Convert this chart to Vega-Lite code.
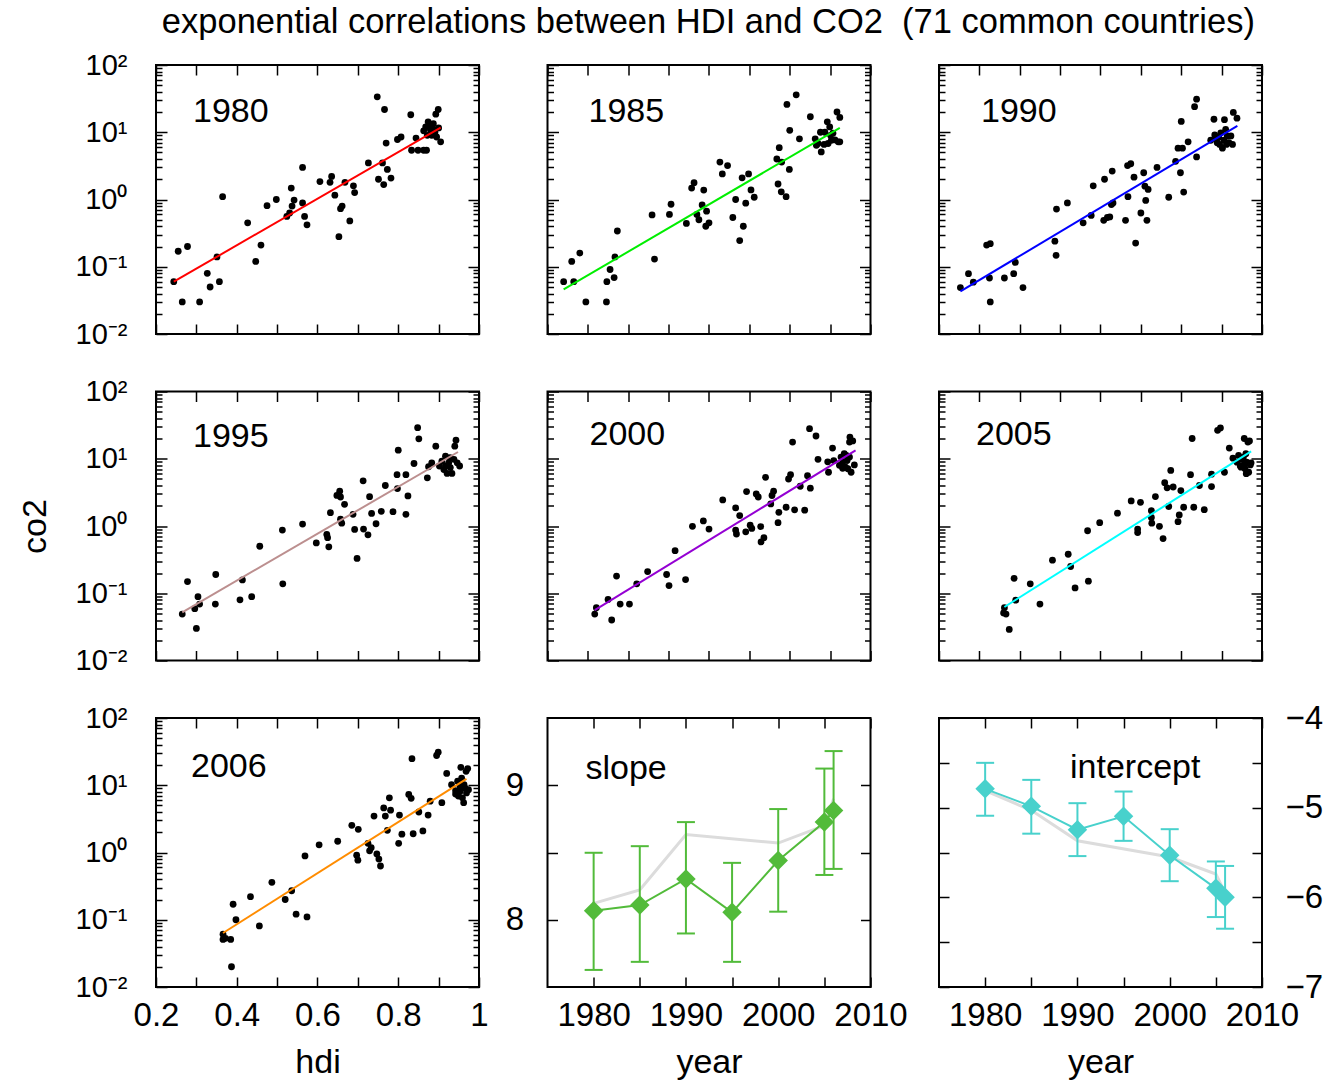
{
"$schema": "https://vega.github.io/schema/vega-lite/v6.json",
"padding": {"left": 17, "top": 5, "right": 5, "bottom": 5},
"background": "white",
"config": {
  "font": "Liberation Sans",
  "view": {"stroke": "black", "strokeWidth": 2},
  "axis": {"domain": false, "grid": false, "tickColor": "black", "tickWidth": 1.5, "labelFont": "Liberation Sans", "labelFontSize": 33, "labelColor": "black", "titleFont": "Liberation Sans", "titleFontSize": 34, "titleFontWeight": "normal", "titleColor": "black", "labelOverlap": false, "labelFlush": false, "labelBound": false, "labelPadding": 22},
  "title": {"font": "Liberation Sans", "fontWeight": "normal", "color": "black"}
},
"title": {"text": "exponential correlations between HDI and CO2\u00a0 (71 common countries)", "fontSize": 34.5, "anchor": "middle", "frame": "bounds", "dx": 38, "offset": 9.5},
"bounds": "flush",
"columns": 3,
"spacing": {"row": 57.5, "column": 68.5},
"datasets": {
"d1980": [{"hdi":0.244,"co2":0.06},{"hdi":0.255,"co2":0.17},{"hdi":0.278,"co2":0.2},{"hdi":0.265,"co2":0.03},{"hdi":0.308,"co2":0.03},{"hdi":0.327,"co2":0.08},{"hdi":0.334,"co2":0.05},{"hdi":0.351,"co2":0.14},{"hdi":0.357,"co2":0.06},{"hdi":0.365,"co2":1.1},{"hdi":0.427,"co2":0.45},{"hdi":0.447,"co2":0.12},{"hdi":0.46,"co2":0.21},{"hdi":0.475,"co2":0.81},{"hdi":0.498,"co2":1.0},{"hdi":0.524,"co2":0.56},{"hdi":0.531,"co2":0.63},{"hdi":0.535,"co2":1.48},{"hdi":0.537,"co2":0.8},{"hdi":0.542,"co2":0.98},{"hdi":0.563,"co2":3.0},{"hdi":0.563,"co2":0.89},{"hdi":0.568,"co2":0.56},{"hdi":0.574,"co2":0.42},{"hdi":0.606,"co2":1.85},{"hdi":0.631,"co2":1.8},{"hdi":0.635,"co2":2.2},{"hdi":0.643,"co2":1.16},{"hdi":0.653,"co2":0.28},{"hdi":0.657,"co2":0.73},{"hdi":0.661,"co2":0.8},{"hdi":0.668,"co2":1.8},{"hdi":0.68,"co2":0.48},{"hdi":0.689,"co2":1.6},{"hdi":0.692,"co2":1.27},{"hdi":0.726,"co2":3.5},{"hdi":0.748,"co2":33.6},{"hdi":0.751,"co2":2.0},{"hdi":0.761,"co2":3.5},{"hdi":0.766,"co2":21.8},{"hdi":0.764,"co2":1.67},{"hdi":0.77,"co2":6.9},{"hdi":0.773,"co2":2.8},{"hdi":0.782,"co2":2.08},{"hdi":0.798,"co2":7.8},{"hdi":0.807,"co2":8.5},{"hdi":0.831,"co2":18.2},{"hdi":0.833,"co2":5.4},{"hdi":0.844,"co2":8.2},{"hdi":0.849,"co2":5.4},{"hdi":0.863,"co2":5.4},{"hdi":0.87,"co2":5.4},{"hdi":0.863,"co2":10.5},{"hdi":0.868,"co2":12},{"hdi":0.874,"co2":14.3},{"hdi":0.878,"co2":12.7},{"hdi":0.887,"co2":13.4},{"hdi":0.891,"co2":10.1},{"hdi":0.883,"co2":9.0},{"hdi":0.893,"co2":18.6},{"hdi":0.899,"co2":21.8},{"hdi":0.905,"co2":7.2},{"hdi":0.895,"co2":8.5},{"hdi":0.9,"co2":11.6},{"hdi":0.888,"co2":11},{"hdi":0.872,"co2":9},{"hdi":0.88,"co2":10.7}],
"d1985": [{"hdi":0.24,"co2":0.06},{"hdi":0.26,"co2":0.12},{"hdi":0.265,"co2":0.06},{"hdi":0.28,"co2":0.16},{"hdi":0.295,"co2":0.03},{"hdi":0.346,"co2":0.03},{"hdi":0.347,"co2":0.06},{"hdi":0.355,"co2":0.091},{"hdi":0.365,"co2":0.069},{"hdi":0.367,"co2":0.14},{"hdi":0.373,"co2":0.34},{"hdi":0.459,"co2":0.59},{"hdi":0.465,"co2":0.13},{"hdi":0.502,"co2":0.6},{"hdi":0.506,"co2":0.85},{"hdi":0.544,"co2":0.44},{"hdi":0.557,"co2":1.48},{"hdi":0.563,"co2":1.78},{"hdi":0.57,"co2":0.6},{"hdi":0.575,"co2":0.5},{"hdi":0.583,"co2":0.83},{"hdi":0.587,"co2":1.38},{"hdi":0.592,"co2":0.4},{"hdi":0.594,"co2":0.67},{"hdi":0.6,"co2":0.45},{"hdi":0.627,"co2":3.6},{"hdi":0.633,"co2":2.4},{"hdi":0.646,"co2":3.2},{"hdi":0.659,"co2":0.54},{"hdi":0.666,"co2":1.0},{"hdi":0.676,"co2":0.245},{"hdi":0.682,"co2":2.1},{"hdi":0.685,"co2":0.4},{"hdi":0.691,"co2":0.88},{"hdi":0.698,"co2":2.4},{"hdi":0.704,"co2":1.39},{"hdi":0.712,"co2":1.08},{"hdi":0.771,"co2":1.7},{"hdi":0.768,"co2":4.0},{"hdi":0.774,"co2":5.9},{"hdi":0.78,"co2":3.6},{"hdi":0.779,"co2":1.3},{"hdi":0.791,"co2":1.1},{"hdi":0.799,"co2":2.8},{"hdi":0.793,"co2":25.9},{"hdi":0.8,"co2":10.7},{"hdi":0.816,"co2":36},{"hdi":0.824,"co2":8.0},{"hdi":0.851,"co2":17},{"hdi":0.863,"co2":8.0},{"hdi":0.866,"co2":6.4},{"hdi":0.878,"co2":5.1},{"hdi":0.876,"co2":10},{"hdi":0.885,"co2":6.6},{"hdi":0.893,"co2":14.3},{"hdi":0.899,"co2":12},{"hdi":0.903,"co2":7.6},{"hdi":0.907,"co2":9.7},{"hdi":0.912,"co2":7.7},{"hdi":0.917,"co2":20},{"hdi":0.924,"co2":16.6},{"hdi":0.92,"co2":7.2},{"hdi":0.924,"co2":7.2},{"hdi":0.887,"co2":10},{"hdi":0.87,"co2":6.8},{"hdi":0.895,"co2":6.8},{"hdi":0.901,"co2":9}],
"d1990": [{"hdi":0.253,"co2":0.049},{"hdi":0.273,"co2":0.079},{"hdi":0.285,"co2":0.059},{"hdi":0.318,"co2":0.21},{"hdi":0.327,"co2":0.22},{"hdi":0.325,"co2":0.068},{"hdi":0.327,"co2":0.03},{"hdi":0.362,"co2":0.068},{"hdi":0.385,"co2":0.079},{"hdi":0.389,"co2":0.116},{"hdi":0.408,"co2":0.049},{"hdi":0.487,"co2":0.24},{"hdi":0.49,"co2":0.148},{"hdi":0.491,"co2":0.72},{"hdi":0.518,"co2":0.89},{"hdi":0.557,"co2":0.45},{"hdi":0.577,"co2":0.58},{"hdi":0.582,"co2":1.6},{"hdi":0.608,"co2":0.49},{"hdi":0.617,"co2":0.54},{"hdi":0.623,"co2":0.55},{"hdi":0.61,"co2":2.0},{"hdi":0.629,"co2":2.65},{"hdi":0.627,"co2":0.84},{"hdi":0.631,"co2":0.89},{"hdi":0.662,"co2":0.49},{"hdi":0.668,"co2":1.1},{"hdi":0.667,"co2":3.2},{"hdi":0.675,"co2":3.4},{"hdi":0.683,"co2":2.15},{"hdi":0.687,"co2":0.225},{"hdi":0.7,"co2":0.63},{"hdi":0.707,"co2":2.5},{"hdi":0.71,"co2":1.58},{"hdi":0.712,"co2":0.97},{"hdi":0.715,"co2":0.49},{"hdi":0.718,"co2":1.41},{"hdi":0.74,"co2":3.0},{"hdi":0.769,"co2":1.08},{"hdi":0.786,"co2":3.7},{"hdi":0.792,"co2":5.8},{"hdi":0.798,"co2":2.5},{"hdi":0.806,"co2":1.29},{"hdi":0.8,"co2":14.5},{"hdi":0.803,"co2":5.8},{"hdi":0.817,"co2":7.2},{"hdi":0.833,"co2":24},{"hdi":0.838,"co2":31},{"hdi":0.838,"co2":4.3},{"hdi":0.873,"co2":7.6},{"hdi":0.881,"co2":15.6},{"hdi":0.883,"co2":9.1},{"hdi":0.889,"co2":7.0},{"hdi":0.893,"co2":8.4},{"hdi":0.898,"co2":9.8},{"hdi":0.902,"co2":5.8},{"hdi":0.907,"co2":15.4},{"hdi":0.906,"co2":7.6},{"hdi":0.91,"co2":11},{"hdi":0.914,"co2":8.8},{"hdi":0.918,"co2":7.0},{"hdi":0.923,"co2":8.8},{"hdi":0.927,"co2":6.6},{"hdi":0.929,"co2":19.7},{"hdi":0.938,"co2":16.2},{"hdi":0.895,"co2":6.6},{"hdi":0.885,"co2":8.2},{"hdi":0.912,"co2":6.6}],
"d1995": [{"hdi":0.265,"co2":0.049},{"hdi":0.278,"co2":0.149},{"hdi":0.296,"co2":0.059},{"hdi":0.3,"co2":0.03},{"hdi":0.304,"co2":0.089},{"hdi":0.308,"co2":0.069},{"hdi":0.347,"co2":0.069},{"hdi":0.348,"co2":0.19},{"hdi":0.408,"co2":0.08},{"hdi":0.414,"co2":0.158},{"hdi":0.437,"co2":0.089},{"hdi":0.457,"co2":0.5},{"hdi":0.513,"co2":0.87},{"hdi":0.514,"co2":0.138},{"hdi":0.563,"co2":1.07},{"hdi":0.597,"co2":0.56},{"hdi":0.623,"co2":0.75},{"hdi":0.625,"co2":0.67},{"hdi":0.628,"co2":0.49},{"hdi":0.632,"co2":1.58},{"hdi":0.648,"co2":2.85},{"hdi":0.655,"co2":3.3},{"hdi":0.657,"co2":2.7},{"hdi":0.667,"co2":2.1},{"hdi":0.657,"co2":1.26},{"hdi":0.66,"co2":1.1},{"hdi":0.688,"co2":1.49},{"hdi":0.692,"co2":0.89},{"hdi":0.698,"co2":0.33},{"hdi":0.714,"co2":0.9},{"hdi":0.713,"co2":4.7},{"hdi":0.725,"co2":0.74},{"hdi":0.729,"co2":2.73},{"hdi":0.734,"co2":1.54},{"hdi":0.745,"co2":1.08},{"hdi":0.758,"co2":1.65},{"hdi":0.768,"co2":4.0},{"hdi":0.787,"co2":1.63},{"hdi":0.797,"co2":5.8},{"hdi":0.798,"co2":3.6},{"hdi":0.8,"co2":13.4},{"hdi":0.819,"co2":5.8},{"hdi":0.819,"co2":1.49},{"hdi":0.824,"co2":2.8},{"hdi":0.839,"co2":8.5},{"hdi":0.848,"co2":29},{"hdi":0.851,"co2":19.8},{"hdi":0.872,"co2":5.2},{"hdi":0.875,"co2":7.6},{"hdi":0.883,"co2":8.7},{"hdi":0.893,"co2":15.4},{"hdi":0.902,"co2":7.8},{"hdi":0.908,"co2":9.2},{"hdi":0.913,"co2":6.9},{"hdi":0.917,"co2":10.9},{"hdi":0.921,"co2":6.05},{"hdi":0.925,"co2":8.7},{"hdi":0.929,"co2":7.4},{"hdi":0.933,"co2":6.05},{"hdi":0.938,"co2":9.8},{"hdi":0.94,"co2":15.4},{"hdi":0.943,"co2":18.9},{"hdi":0.946,"co2":8.7},{"hdi":0.952,"co2":7.8},{"hdi":0.917,"co2":7.8},{"hdi":0.928,"co2":10.4}],
"d2000": [{"hdi":0.317,"co2":0.049},{"hdi":0.321,"co2":0.061},{"hdi":0.35,"co2":0.081},{"hdi":0.359,"co2":0.04},{"hdi":0.371,"co2":0.18},{"hdi":0.38,"co2":0.069},{"hdi":0.403,"co2":0.069},{"hdi":0.421,"co2":0.138},{"hdi":0.448,"co2":0.21},{"hdi":0.495,"co2":0.19},{"hdi":0.501,"co2":0.13},{"hdi":0.516,"co2":0.43},{"hdi":0.542,"co2":0.16},{"hdi":0.559,"co2":0.99},{"hdi":0.586,"co2":1.19},{"hdi":0.6,"co2":0.9},{"hdi":0.634,"co2":2.44},{"hdi":0.666,"co2":1.86},{"hdi":0.676,"co2":1.43},{"hdi":0.666,"co2":0.87},{"hdi":0.668,"co2":0.76},{"hdi":0.691,"co2":0.82},{"hdi":0.693,"co2":3.25},{"hdi":0.702,"co2":1.03},{"hdi":0.706,"co2":0.92},{"hdi":0.717,"co2":3.0},{"hdi":0.722,"co2":2.7},{"hdi":0.728,"co2":0.98},{"hdi":0.729,"co2":0.58},{"hdi":0.736,"co2":0.67},{"hdi":0.74,"co2":5.3},{"hdi":0.753,"co2":2.13},{"hdi":0.756,"co2":2.84},{"hdi":0.76,"co2":3.3},{"hdi":0.773,"co2":1.6},{"hdi":0.771,"co2":1.12},{"hdi":0.791,"co2":1.9},{"hdi":0.797,"co2":5.0},{"hdi":0.802,"co2":5.8},{"hdi":0.807,"co2":17.7},{"hdi":0.812,"co2":1.74},{"hdi":0.826,"co2":3.9},{"hdi":0.837,"co2":1.72},{"hdi":0.844,"co2":5.6},{"hdi":0.849,"co2":28},{"hdi":0.851,"co2":3.65},{"hdi":0.865,"co2":21.8},{"hdi":0.87,"co2":9.8},{"hdi":0.896,"co2":6.3},{"hdi":0.894,"co2":9.0},{"hdi":0.906,"co2":14.4},{"hdi":0.909,"co2":9.4},{"hdi":0.923,"co2":8.0},{"hdi":0.927,"co2":10.6},{"hdi":0.931,"co2":8.9},{"hdi":0.935,"co2":11.9},{"hdi":0.938,"co2":7.5},{"hdi":0.942,"co2":9.4},{"hdi":0.944,"co2":7.1},{"hdi":0.948,"co2":17.7},{"hdi":0.949,"co2":21},{"hdi":0.952,"co2":6.3},{"hdi":0.956,"co2":18.4},{"hdi":0.96,"co2":8.1},{"hdi":0.948,"co2":10.6},{"hdi":0.94,"co2":11.2},{"hdi":0.931,"co2":7.2}],
"d2005": [{"hdi":0.362,"co2":0.061},{"hdi":0.36,"co2":0.051},{"hdi":0.366,"co2":0.049},{"hdi":0.374,"co2":0.029},{"hdi":0.386,"co2":0.167},{"hdi":0.39,"co2":0.079},{"hdi":0.426,"co2":0.138},{"hdi":0.45,"co2":0.069},{"hdi":0.481,"co2":0.31},{"hdi":0.52,"co2":0.38},{"hdi":0.526,"co2":0.25},{"hdi":0.537,"co2":0.12},{"hdi":0.57,"co2":0.151},{"hdi":0.568,"co2":0.85},{"hdi":0.598,"co2":1.12},{"hdi":0.642,"co2":1.55},{"hdi":0.676,"co2":2.36},{"hdi":0.692,"co2":0.9},{"hdi":0.692,"co2":0.8},{"hdi":0.699,"co2":2.25},{"hdi":0.726,"co2":1.69},{"hdi":0.726,"co2":1.34},{"hdi":0.727,"co2":1.1},{"hdi":0.736,"co2":2.74},{"hdi":0.746,"co2":0.99},{"hdi":0.755,"co2":0.65},{"hdi":0.759,"co2":4.4},{"hdi":0.765,"co2":3.7},{"hdi":0.769,"co2":1.95},{"hdi":0.774,"co2":6.7},{"hdi":0.78,"co2":3.8},{"hdi":0.792,"co2":1.16},{"hdi":0.795,"co2":1.46},{"hdi":0.799,"co2":3.37},{"hdi":0.806,"co2":1.9},{"hdi":0.823,"co2":5.8},{"hdi":0.827,"co2":20},{"hdi":0.831,"co2":1.9},{"hdi":0.845,"co2":4.0},{"hdi":0.857,"co2":1.75},{"hdi":0.875,"co2":5.9},{"hdi":0.875,"co2":3.86},{"hdi":0.89,"co2":26.5},{"hdi":0.897,"co2":28.7},{"hdi":0.907,"co2":6.3},{"hdi":0.919,"co2":14.4},{"hdi":0.928,"co2":10.2},{"hdi":0.938,"co2":8.9},{"hdi":0.942,"co2":11.2},{"hdi":0.946,"co2":7.9},{"hdi":0.95,"co2":9.8},{"hdi":0.954,"co2":10.6},{"hdi":0.956,"co2":20},{"hdi":0.958,"co2":7.1},{"hdi":0.961,"co2":6.0},{"hdi":0.962,"co2":8.9},{"hdi":0.965,"co2":17.7},{"hdi":0.969,"co2":18.4},{"hdi":0.971,"co2":8.1},{"hdi":0.973,"co2":8.7},{"hdi":0.96,"co2":11.9},{"hdi":0.948,"co2":7.5},{"hdi":0.967,"co2":6.3},{"hdi":0.957,"co2":8.4}],
"d2006": [{"hdi":0.366,"co2":0.061},{"hdi":0.366,"co2":0.051},{"hdi":0.372,"co2":0.053},{"hdi":0.385,"co2":0.051},{"hdi":0.387,"co2":0.02},{"hdi":0.391,"co2":0.17},{"hdi":0.398,"co2":0.1},{"hdi":0.434,"co2":0.22},{"hdi":0.456,"co2":0.081},{"hdi":0.487,"co2":0.36},{"hdi":0.52,"co2":0.2},{"hdi":0.536,"co2":0.27},{"hdi":0.547,"co2":0.121},{"hdi":0.574,"co2":0.11},{"hdi":0.569,"co2":0.89},{"hdi":0.604,"co2":1.3},{"hdi":0.65,"co2":1.47},{"hdi":0.685,"co2":2.54},{"hdi":0.701,"co2":2.21},{"hdi":0.697,"co2":0.91},{"hdi":0.7,"co2":0.77},{"hdi":0.725,"co2":1.37},{"hdi":0.729,"co2":1.06},{"hdi":0.733,"co2":1.18},{"hdi":0.74,"co2":3.48},{"hdi":0.747,"co2":0.95},{"hdi":0.752,"co2":0.8},{"hdi":0.756,"co2":0.63},{"hdi":0.764,"co2":4.6},{"hdi":0.768,"co2":3.48},{"hdi":0.773,"co2":2.14},{"hdi":0.778,"co2":6.5},{"hdi":0.781,"co2":4.26},{"hdi":0.801,"co2":1.37},{"hdi":0.803,"co2":3.6},{"hdi":0.809,"co2":1.87},{"hdi":0.826,"co2":7.3},{"hdi":0.832,"co2":6.4},{"hdi":0.834,"co2":24.8},{"hdi":0.837,"co2":1.9},{"hdi":0.851,"co2":4.0},{"hdi":0.861,"co2":2.09},{"hdi":0.874,"co2":3.6},{"hdi":0.879,"co2":5.8},{"hdi":0.895,"co2":27.7},{"hdi":0.899,"co2":31},{"hdi":0.908,"co2":5.5},{"hdi":0.92,"co2":15},{"hdi":0.932,"co2":10.2},{"hdi":0.942,"co2":8.3},{"hdi":0.947,"co2":11.5},{"hdi":0.949,"co2":6.9},{"hdi":0.953,"co2":8.1},{"hdi":0.955,"co2":18.5},{"hdi":0.957,"co2":12.8},{"hdi":0.959,"co2":6.5},{"hdi":0.962,"co2":5.5},{"hdi":0.965,"co2":9.1},{"hdi":0.968,"co2":16.1},{"hdi":0.969,"co2":7.7},{"hdi":0.972,"co2":17.7},{"hdi":0.974,"co2":8.6},{"hdi":0.963,"co2":10.2},{"hdi":0.953,"co2":9.7},{"hdi":0.942,"co2":7.4}],
"fits": [{"year":1980,"hdi":0.244,"co2":0.06},{"year":1980,"hdi":0.905,"co2":11.7},{"year":1985,"hdi":0.24,"co2":0.046},{"year":1985,"hdi":0.924,"co2":11.6},{"year":1990,"hdi":0.253,"co2":0.043},{"year":1990,"hdi":0.939,"co2":12.4},{"year":1995,"hdi":0.265,"co2":0.052},{"year":1995,"hdi":0.948,"co2":12.6},{"year":2000,"hdi":0.317,"co2":0.056},{"year":2000,"hdi":0.963,"co2":13.3},{"year":2005,"hdi":0.362,"co2":0.0625},{"year":2005,"hdi":0.973,"co2":12.9},{"year":2006,"hdi":0.366,"co2":0.0635},{"year":2006,"hdi":0.969,"co2":12.4}],
"slope": [{"year":1980,"v":8.067,"lo":7.627,"hi":8.498},{"year":1985,"v":8.109,"lo":7.687,"hi":8.547},{"year":1990,"v":8.303,"lo":7.898,"hi":8.726},{"year":1995,"v":8.055,"lo":7.687,"hi":8.423},{"year":2000,"v":8.44,"lo":8.06,"hi":8.823},{"year":2005,"v":8.726,"lo":8.333,"hi":9.124},{"year":2006,"v":8.813,"lo":8.378,"hi":9.254}],
"slopeRef": [{"year":1980,"v":8.122},{"year":1985,"v":8.221},{"year":1990,"v":8.634},{"year":2000,"v":8.57},{"year":2005,"v":8.7},{"year":2006,"v":8.9}],
"icpt": [{"year":1980,"v":-4.79,"lo":-5.09,"hi":-4.5},{"year":1985,"v":-4.985,"lo":-5.29,"hi":-4.69},{"year":1990,"v":-5.245,"lo":-5.54,"hi":-4.95},{"year":1995,"v":-5.096,"lo":-5.37,"hi":-4.82},{"year":2000,"v":-5.53,"lo":-5.82,"hi":-5.24},{"year":2005,"v":-5.9,"lo":-6.22,"hi":-5.6},{"year":2006,"v":-6.0,"lo":-6.35,"hi":-5.65}],
"icptRef": [{"year":1980,"v":-4.81},{"year":1985,"v":-5.03},{"year":1990,"v":-5.37},{"year":2000,"v":-5.55},{"year":2005,"v":-5.74},{"year":2006,"v":-5.95}]
},
"concat": [
{"width":323,"height":269,
 "title":{"text":"1980","anchor":"start","frame":"group","orient":"top","offset":0,"baseline":"alphabetic","dx":37,"dy":105,"fontSize":34},
 "resolve":{"axis":{"x":"independent","y":"independent"}},
 "layer":[
  {"data":{"name":"d1980"},"mark":{"type":"circle","size":46,"color":"black","opacity":1},
   "encoding":{"x":{"field":"hdi","type":"quantitative","scale":{"domain":[0.2,1],"nice":false,"zero":false},"axis":{"orient":"bottom","values":[0.2,0.3,0.4,0.5,0.6,0.7,0.8,0.9,1],"tickSize":-10,"labels":false,"title":null}},
    "y":{"field":"co2","type":"quantitative","scale":{"type":"log","domain":[0.01,100],"nice":false},"axis":{"orient":"left","values":[0.01,0.02,0.03,0.04,0.05,0.06,0.07,0.08,0.09,0.1,0.2,0.3,0.4,0.5,0.6,0.7,0.8,0.9,1,2,3,4,5,6,7,8,9,10,20,30,40,50,60,70,80,90,100],"tickSize":{"condition":{"test":"datum.value==0.01||datum.value==0.1||datum.value==1||datum.value==10||datum.value==100","value":-11},"value":-6},"labelFontSize":29,"labelPadding":40,"labelExpr":"datum.value==100?'10²':datum.value==10?'10¹':datum.value==1?'10⁰':datum.value==0.1?'10⁻¹':datum.value==0.01?'10⁻²':''","title":null}}}},
  {"data":{"name":"fits"},"transform":[{"filter":"datum.year==1980"}],"mark":{"type":"line","color":"#ff0000","strokeWidth":2},
   "encoding":{"x":{"field":"hdi","type":"quantitative","scale":{"domain":[0.2,1],"nice":false,"zero":false},"axis":{"orient":"top","values":[0.2,0.3,0.4,0.5,0.6,0.7,0.8,0.9,1],"tickSize":-10,"labels":false,"title":null}},
    "y":{"field":"co2","type":"quantitative","scale":{"type":"log","domain":[0.01,100],"nice":false},"axis":{"orient":"right","values":[0.01,0.02,0.03,0.04,0.05,0.06,0.07,0.08,0.09,0.1,0.2,0.3,0.4,0.5,0.6,0.7,0.8,0.9,1,2,3,4,5,6,7,8,9,10,20,30,40,50,60,70,80,90,100],"tickSize":{"condition":{"test":"datum.value==0.01||datum.value==0.1||datum.value==1||datum.value==10||datum.value==100","value":-11},"value":-6},"labels":false,"title":null}}}}
 ]},
{"width":323,"height":269,
 "title":{"text":"1985","anchor":"start","frame":"group","orient":"top","offset":0,"baseline":"alphabetic","dx":41,"dy":92,"fontSize":34},
 "resolve":{"axis":{"x":"independent","y":"independent"}},
 "layer":[
  {"data":{"name":"d1985"},"mark":{"type":"circle","size":46,"color":"black","opacity":1},
   "encoding":{"x":{"field":"hdi","type":"quantitative","scale":{"domain":[0.2,1],"nice":false,"zero":false},"axis":{"orient":"bottom","values":[0.2,0.3,0.4,0.5,0.6,0.7,0.8,0.9,1],"tickSize":-10,"labels":false,"title":null}},
    "y":{"field":"co2","type":"quantitative","scale":{"type":"log","domain":[0.01,100],"nice":false},"axis":{"orient":"left","values":[0.01,0.02,0.03,0.04,0.05,0.06,0.07,0.08,0.09,0.1,0.2,0.3,0.4,0.5,0.6,0.7,0.8,0.9,1,2,3,4,5,6,7,8,9,10,20,30,40,50,60,70,80,90,100],"tickSize":{"condition":{"test":"datum.value==0.01||datum.value==0.1||datum.value==1||datum.value==10||datum.value==100","value":-11},"value":-6},"labels":false,"title":null}}}},
  {"data":{"name":"fits"},"transform":[{"filter":"datum.year==1985"}],"mark":{"type":"line","color":"#00ee00","strokeWidth":2},
   "encoding":{"x":{"field":"hdi","type":"quantitative","scale":{"domain":[0.2,1],"nice":false,"zero":false},"axis":{"orient":"top","values":[0.2,0.3,0.4,0.5,0.6,0.7,0.8,0.9,1],"tickSize":-10,"labels":false,"title":null}},
    "y":{"field":"co2","type":"quantitative","scale":{"type":"log","domain":[0.01,100],"nice":false},"axis":{"orient":"right","values":[0.01,0.02,0.03,0.04,0.05,0.06,0.07,0.08,0.09,0.1,0.2,0.3,0.4,0.5,0.6,0.7,0.8,0.9,1,2,3,4,5,6,7,8,9,10,20,30,40,50,60,70,80,90,100],"tickSize":{"condition":{"test":"datum.value==0.01||datum.value==0.1||datum.value==1||datum.value==10||datum.value==100","value":-11},"value":-6},"labels":false,"title":null}}}}
 ]},
{"width":323,"height":269,
 "title":{"text":"1990","anchor":"start","frame":"group","orient":"top","offset":0,"baseline":"alphabetic","dx":42,"dy":92,"fontSize":34},
 "resolve":{"axis":{"x":"independent","y":"independent"}},
 "layer":[
  {"data":{"name":"d1990"},"mark":{"type":"circle","size":46,"color":"black","opacity":1},
   "encoding":{"x":{"field":"hdi","type":"quantitative","scale":{"domain":[0.2,1],"nice":false,"zero":false},"axis":{"orient":"bottom","values":[0.2,0.3,0.4,0.5,0.6,0.7,0.8,0.9,1],"tickSize":-10,"labels":false,"title":null}},
    "y":{"field":"co2","type":"quantitative","scale":{"type":"log","domain":[0.01,100],"nice":false},"axis":{"orient":"left","values":[0.01,0.02,0.03,0.04,0.05,0.06,0.07,0.08,0.09,0.1,0.2,0.3,0.4,0.5,0.6,0.7,0.8,0.9,1,2,3,4,5,6,7,8,9,10,20,30,40,50,60,70,80,90,100],"tickSize":{"condition":{"test":"datum.value==0.01||datum.value==0.1||datum.value==1||datum.value==10||datum.value==100","value":-11},"value":-6},"labels":false,"title":null}}}},
  {"data":{"name":"fits"},"transform":[{"filter":"datum.year==1990"}],"mark":{"type":"line","color":"#0000ff","strokeWidth":2},
   "encoding":{"x":{"field":"hdi","type":"quantitative","scale":{"domain":[0.2,1],"nice":false,"zero":false},"axis":{"orient":"top","values":[0.2,0.3,0.4,0.5,0.6,0.7,0.8,0.9,1],"tickSize":-10,"labels":false,"title":null}},
    "y":{"field":"co2","type":"quantitative","scale":{"type":"log","domain":[0.01,100],"nice":false},"axis":{"orient":"right","values":[0.01,0.02,0.03,0.04,0.05,0.06,0.07,0.08,0.09,0.1,0.2,0.3,0.4,0.5,0.6,0.7,0.8,0.9,1,2,3,4,5,6,7,8,9,10,20,30,40,50,60,70,80,90,100],"tickSize":{"condition":{"test":"datum.value==0.01||datum.value==0.1||datum.value==1||datum.value==10||datum.value==100","value":-11},"value":-6},"labels":false,"title":null}}}}
 ]},
{"width":323,"height":269,
 "title":{"text":"1995","anchor":"start","frame":"group","orient":"top","offset":0,"baseline":"alphabetic","dx":37,"dy":103,"fontSize":34},
 "resolve":{"axis":{"x":"independent","y":"independent"}},
 "layer":[
  {"data":{"name":"d1995"},"mark":{"type":"circle","size":46,"color":"black","opacity":1},
   "encoding":{"x":{"field":"hdi","type":"quantitative","scale":{"domain":[0.2,1],"nice":false,"zero":false},"axis":{"orient":"bottom","values":[0.2,0.3,0.4,0.5,0.6,0.7,0.8,0.9,1],"tickSize":-10,"labels":false,"title":null}},
    "y":{"field":"co2","type":"quantitative","scale":{"type":"log","domain":[0.01,100],"nice":false},"axis":{"orient":"left","values":[0.01,0.02,0.03,0.04,0.05,0.06,0.07,0.08,0.09,0.1,0.2,0.3,0.4,0.5,0.6,0.7,0.8,0.9,1,2,3,4,5,6,7,8,9,10,20,30,40,50,60,70,80,90,100],"tickSize":{"condition":{"test":"datum.value==0.01||datum.value==0.1||datum.value==1||datum.value==10||datum.value==100","value":-11},"value":-6},"labelFontSize":29,"labelPadding":40,"labelExpr":"datum.value==100?'10²':datum.value==10?'10¹':datum.value==1?'10⁰':datum.value==0.1?'10⁻¹':datum.value==0.01?'10⁻²':''","title":"co2","titlePadding":23}}}},
  {"data":{"name":"fits"},"transform":[{"filter":"datum.year==1995"}],"mark":{"type":"line","color":"#bc8f8f","strokeWidth":2},
   "encoding":{"x":{"field":"hdi","type":"quantitative","scale":{"domain":[0.2,1],"nice":false,"zero":false},"axis":{"orient":"top","values":[0.2,0.3,0.4,0.5,0.6,0.7,0.8,0.9,1],"tickSize":-10,"labels":false,"title":null}},
    "y":{"field":"co2","type":"quantitative","scale":{"type":"log","domain":[0.01,100],"nice":false},"axis":{"orient":"right","values":[0.01,0.02,0.03,0.04,0.05,0.06,0.07,0.08,0.09,0.1,0.2,0.3,0.4,0.5,0.6,0.7,0.8,0.9,1,2,3,4,5,6,7,8,9,10,20,30,40,50,60,70,80,90,100],"tickSize":{"condition":{"test":"datum.value==0.01||datum.value==0.1||datum.value==1||datum.value==10||datum.value==100","value":-11},"value":-6},"labels":false,"title":null}}}}
 ]},
{"width":323,"height":269,
 "title":{"text":"2000","anchor":"start","frame":"group","orient":"top","offset":0,"baseline":"alphabetic","dx":42,"dy":88,"fontSize":34},
 "resolve":{"axis":{"x":"independent","y":"independent"}},
 "layer":[
  {"data":{"name":"d2000"},"mark":{"type":"circle","size":46,"color":"black","opacity":1},
   "encoding":{"x":{"field":"hdi","type":"quantitative","scale":{"domain":[0.2,1],"nice":false,"zero":false},"axis":{"orient":"bottom","values":[0.2,0.3,0.4,0.5,0.6,0.7,0.8,0.9,1],"tickSize":-10,"labels":false,"title":null}},
    "y":{"field":"co2","type":"quantitative","scale":{"type":"log","domain":[0.01,100],"nice":false},"axis":{"orient":"left","values":[0.01,0.02,0.03,0.04,0.05,0.06,0.07,0.08,0.09,0.1,0.2,0.3,0.4,0.5,0.6,0.7,0.8,0.9,1,2,3,4,5,6,7,8,9,10,20,30,40,50,60,70,80,90,100],"tickSize":{"condition":{"test":"datum.value==0.01||datum.value==0.1||datum.value==1||datum.value==10||datum.value==100","value":-11},"value":-6},"labels":false,"title":null}}}},
  {"data":{"name":"fits"},"transform":[{"filter":"datum.year==2000"}],"mark":{"type":"line","color":"#9400d3","strokeWidth":2},
   "encoding":{"x":{"field":"hdi","type":"quantitative","scale":{"domain":[0.2,1],"nice":false,"zero":false},"axis":{"orient":"top","values":[0.2,0.3,0.4,0.5,0.6,0.7,0.8,0.9,1],"tickSize":-10,"labels":false,"title":null}},
    "y":{"field":"co2","type":"quantitative","scale":{"type":"log","domain":[0.01,100],"nice":false},"axis":{"orient":"right","values":[0.01,0.02,0.03,0.04,0.05,0.06,0.07,0.08,0.09,0.1,0.2,0.3,0.4,0.5,0.6,0.7,0.8,0.9,1,2,3,4,5,6,7,8,9,10,20,30,40,50,60,70,80,90,100],"tickSize":{"condition":{"test":"datum.value==0.01||datum.value==0.1||datum.value==1||datum.value==10||datum.value==100","value":-11},"value":-6},"labels":false,"title":null}}}}
 ]},
{"width":323,"height":269,
 "title":{"text":"2005","anchor":"start","frame":"group","orient":"top","offset":0,"baseline":"alphabetic","dx":37,"dy":88,"fontSize":34},
 "resolve":{"axis":{"x":"independent","y":"independent"}},
 "layer":[
  {"data":{"name":"d2005"},"mark":{"type":"circle","size":46,"color":"black","opacity":1},
   "encoding":{"x":{"field":"hdi","type":"quantitative","scale":{"domain":[0.2,1],"nice":false,"zero":false},"axis":{"orient":"bottom","values":[0.2,0.3,0.4,0.5,0.6,0.7,0.8,0.9,1],"tickSize":-10,"labels":false,"title":null}},
    "y":{"field":"co2","type":"quantitative","scale":{"type":"log","domain":[0.01,100],"nice":false},"axis":{"orient":"left","values":[0.01,0.02,0.03,0.04,0.05,0.06,0.07,0.08,0.09,0.1,0.2,0.3,0.4,0.5,0.6,0.7,0.8,0.9,1,2,3,4,5,6,7,8,9,10,20,30,40,50,60,70,80,90,100],"tickSize":{"condition":{"test":"datum.value==0.01||datum.value==0.1||datum.value==1||datum.value==10||datum.value==100","value":-11},"value":-6},"labels":false,"title":null}}}},
  {"data":{"name":"fits"},"transform":[{"filter":"datum.year==2005"}],"mark":{"type":"line","color":"#00ffff","strokeWidth":2},
   "encoding":{"x":{"field":"hdi","type":"quantitative","scale":{"domain":[0.2,1],"nice":false,"zero":false},"axis":{"orient":"top","values":[0.2,0.3,0.4,0.5,0.6,0.7,0.8,0.9,1],"tickSize":-10,"labels":false,"title":null}},
    "y":{"field":"co2","type":"quantitative","scale":{"type":"log","domain":[0.01,100],"nice":false},"axis":{"orient":"right","values":[0.01,0.02,0.03,0.04,0.05,0.06,0.07,0.08,0.09,0.1,0.2,0.3,0.4,0.5,0.6,0.7,0.8,0.9,1,2,3,4,5,6,7,8,9,10,20,30,40,50,60,70,80,90,100],"tickSize":{"condition":{"test":"datum.value==0.01||datum.value==0.1||datum.value==1||datum.value==10||datum.value==100","value":-11},"value":-6},"labels":false,"title":null}}}}
 ]},
{"width":323,"height":269,
 "title":{"text":"2006","anchor":"start","frame":"group","orient":"top","offset":0,"baseline":"alphabetic","dx":35,"dy":107,"fontSize":34},
 "resolve":{"axis":{"x":"independent","y":"independent"}},
 "layer":[
  {"data":{"name":"d2006"},"mark":{"type":"circle","size":46,"color":"black","opacity":1},
   "encoding":{"x":{"field":"hdi","type":"quantitative","scale":{"domain":[0.2,1],"nice":false,"zero":false},"axis":{"orient":"bottom","values":[0.2,0.3,0.4,0.5,0.6,0.7,0.8,0.9,1],"tickSize":-10,"labelExpr":"round(datum.value*10)%2==0 ? format(datum.value,'~g') : ''","title":"hdi","titlePadding":13}},
    "y":{"field":"co2","type":"quantitative","scale":{"type":"log","domain":[0.01,100],"nice":false},"axis":{"orient":"left","values":[0.01,0.02,0.03,0.04,0.05,0.06,0.07,0.08,0.09,0.1,0.2,0.3,0.4,0.5,0.6,0.7,0.8,0.9,1,2,3,4,5,6,7,8,9,10,20,30,40,50,60,70,80,90,100],"tickSize":{"condition":{"test":"datum.value==0.01||datum.value==0.1||datum.value==1||datum.value==10||datum.value==100","value":-11},"value":-6},"labelFontSize":29,"labelPadding":40,"labelExpr":"datum.value==100?'10²':datum.value==10?'10¹':datum.value==1?'10⁰':datum.value==0.1?'10⁻¹':datum.value==0.01?'10⁻²':''","title":null}}}},
  {"data":{"name":"fits"},"transform":[{"filter":"datum.year==2006"}],"mark":{"type":"line","color":"#ff8c00","strokeWidth":2},
   "encoding":{"x":{"field":"hdi","type":"quantitative","scale":{"domain":[0.2,1],"nice":false,"zero":false},"axis":{"orient":"top","values":[0.2,0.3,0.4,0.5,0.6,0.7,0.8,0.9,1],"tickSize":-10,"labels":false,"title":null}},
    "y":{"field":"co2","type":"quantitative","scale":{"type":"log","domain":[0.01,100],"nice":false},"axis":{"orient":"right","values":[0.01,0.02,0.03,0.04,0.05,0.06,0.07,0.08,0.09,0.1,0.2,0.3,0.4,0.5,0.6,0.7,0.8,0.9,1,2,3,4,5,6,7,8,9,10,20,30,40,50,60,70,80,90,100],"tickSize":{"condition":{"test":"datum.value==0.01||datum.value==0.1||datum.value==1||datum.value==10||datum.value==100","value":-11},"value":-6},"labels":false,"title":null}}}}
 ]},
{"width":323,"height":269,
 "title":{"text":"slope","anchor":"start","frame":"group","orient":"top","offset":0,"baseline":"alphabetic","dx":38,"dy":96,"fontSize":34},
 "resolve":{"axis":{"x":"independent","y":"independent"}},
 "layer":[
  {"data":{"name":"slopeRef"},"mark":{"type":"line","color":"#dcdcdc","strokeWidth":3},
   "encoding":{"x":{"field":"year","type":"quantitative","scale":{"domain":[1975,2010],"nice":false,"zero":false},"axis":{"orient":"bottom","values":[1980,1985,1990,1995,2000,2005,2010],"tickSize":-10,"labelExpr":"datum.value%10==0 ? ''+datum.value : ''","title":"year","titlePadding":13}},
    "y":{"field":"v","type":"quantitative","scale":{"domain":[7.5,9.5],"nice":false,"zero":false},"axis":{"orient":"left","values":[8,8.5,9],"tickSize":-10,"labelPadding":34,"labelExpr":"datum.value%1==0 ? format(datum.value,'d') : ''","title":null}}}},
  {"data":{"name":"slope"},"mark":{"type":"rule","color":"#52bb3a","strokeWidth":2},
   "encoding":{"x":{"field":"year","type":"quantitative","scale":{"domain":[1975,2010],"nice":false,"zero":false},"axis":{"orient":"top","values":[1980,1985,1990,1995,2000,2005,2010],"tickSize":-10,"labels":false,"title":null}},
    "y":{"field":"lo","type":"quantitative","scale":{"domain":[7.5,9.5],"nice":false,"zero":false},"axis":{"orient":"right","values":[8,8.5,9],"tickSize":-10,"labels":false,"title":null}},
    "y2":{"field":"hi"}}},
  {"data":{"name":"slope"},"mark":{"type":"tick","orient":"horizontal","size":18,"thickness":2,"color":"#52bb3a","opacity":1},
   "encoding":{"x":{"field":"year","type":"quantitative","scale":{"domain":[1975,2010],"nice":false,"zero":false},"axis":null},
    "y":{"field":"lo","type":"quantitative","scale":{"domain":[7.5,9.5],"nice":false,"zero":false},"axis":null}}},
  {"data":{"name":"slope"},"mark":{"type":"tick","orient":"horizontal","size":18,"thickness":2,"color":"#52bb3a","opacity":1},
   "encoding":{"x":{"field":"year","type":"quantitative","scale":{"domain":[1975,2010],"nice":false,"zero":false},"axis":null},
    "y":{"field":"hi","type":"quantitative","scale":{"domain":[7.5,9.5],"nice":false,"zero":false},"axis":null}}},
  {"data":{"name":"slope"},"mark":{"type":"line","color":"#52bb3a","strokeWidth":2},
   "encoding":{"x":{"field":"year","type":"quantitative","scale":{"domain":[1975,2010],"nice":false,"zero":false},"axis":null},
    "y":{"field":"v","type":"quantitative","scale":{"domain":[7.5,9.5],"nice":false,"zero":false},"axis":null}}},
  {"data":{"name":"slope"},"mark":{"type":"point","shape":"diamond","filled":true,"size":380,"color":"#52bb3a","opacity":1},
   "encoding":{"x":{"field":"year","type":"quantitative","scale":{"domain":[1975,2010],"nice":false,"zero":false},"axis":null},
    "y":{"field":"v","type":"quantitative","scale":{"domain":[7.5,9.5],"nice":false,"zero":false},"axis":null}}}
 ]},
{"width":323,"height":269,
 "title":{"text":"intercept","anchor":"start","frame":"group","orient":"top","offset":0,"baseline":"alphabetic","dx":131,"dy":110,"fontSize":34},
 "resolve":{"axis":{"x":"independent","y":"independent"}},
 "layer":[
  {"data":{"name":"icptRef"},"mark":{"type":"line","color":"#dcdcdc","strokeWidth":3},
   "encoding":{"x":{"field":"year","type":"quantitative","scale":{"domain":[1975,2010],"nice":false,"zero":false},"axis":{"orient":"bottom","values":[1980,1985,1990,1995,2000,2005,2010],"tickSize":-10,"labelExpr":"datum.value%10==0 ? ''+datum.value : ''","title":"year","titlePadding":13}},
    "y":{"field":"v","type":"quantitative","scale":{"domain":[-7,-4],"nice":false,"zero":false},"axis":{"orient":"right","values":[-7,-6.5,-6,-5.5,-5,-4.5,-4],"tickSize":-10,"labelPadding":33,"labelExpr":"datum.value%1==0 ? format(datum.value,'d') : ''","title":null}}}},
  {"data":{"name":"icpt"},"mark":{"type":"rule","color":"#48d1cc","strokeWidth":2},
   "encoding":{"x":{"field":"year","type":"quantitative","scale":{"domain":[1975,2010],"nice":false,"zero":false},"axis":{"orient":"top","values":[1980,1985,1990,1995,2000,2005,2010],"tickSize":-10,"labels":false,"title":null}},
    "y":{"field":"lo","type":"quantitative","scale":{"domain":[-7,-4],"nice":false,"zero":false},"axis":{"orient":"left","values":[-7,-6.5,-6,-5.5,-5,-4.5,-4],"tickSize":-10,"labels":false,"title":null}},
    "y2":{"field":"hi"}}},
  {"data":{"name":"icpt"},"mark":{"type":"tick","orient":"horizontal","size":18,"thickness":2,"color":"#48d1cc","opacity":1},
   "encoding":{"x":{"field":"year","type":"quantitative","scale":{"domain":[1975,2010],"nice":false,"zero":false},"axis":null},
    "y":{"field":"lo","type":"quantitative","scale":{"domain":[-7,-4],"nice":false,"zero":false},"axis":null}}},
  {"data":{"name":"icpt"},"mark":{"type":"tick","orient":"horizontal","size":18,"thickness":2,"color":"#48d1cc","opacity":1},
   "encoding":{"x":{"field":"year","type":"quantitative","scale":{"domain":[1975,2010],"nice":false,"zero":false},"axis":null},
    "y":{"field":"hi","type":"quantitative","scale":{"domain":[-7,-4],"nice":false,"zero":false},"axis":null}}},
  {"data":{"name":"icpt"},"mark":{"type":"line","color":"#48d1cc","strokeWidth":2},
   "encoding":{"x":{"field":"year","type":"quantitative","scale":{"domain":[1975,2010],"nice":false,"zero":false},"axis":null},
    "y":{"field":"v","type":"quantitative","scale":{"domain":[-7,-4],"nice":false,"zero":false},"axis":null}}},
  {"data":{"name":"icpt"},"mark":{"type":"point","shape":"diamond","filled":true,"size":380,"color":"#48d1cc","opacity":1},
   "encoding":{"x":{"field":"year","type":"quantitative","scale":{"domain":[1975,2010],"nice":false,"zero":false},"axis":null},
    "y":{"field":"v","type":"quantitative","scale":{"domain":[-7,-4],"nice":false,"zero":false},"axis":null}}}
 ]}
]
}
